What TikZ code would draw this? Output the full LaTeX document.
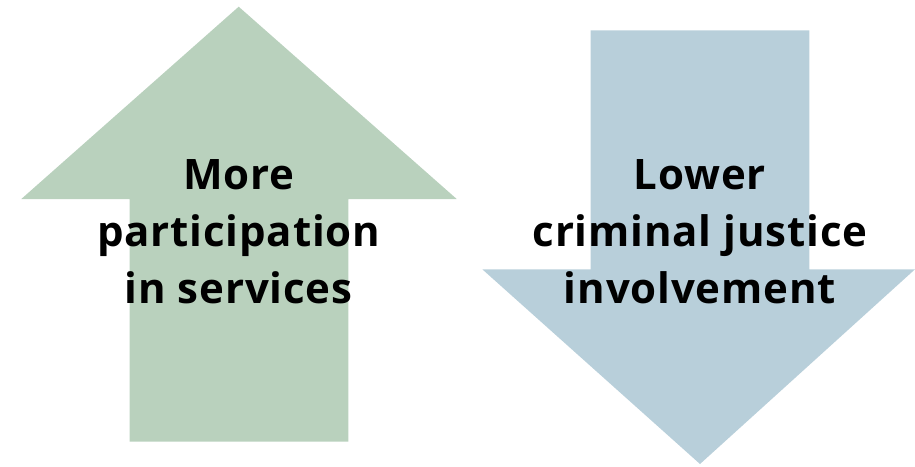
\documentclass[tikz,border=0pt]{standalone}
\usepackage{fontspec}
\setmainfont{Open Sans}[LetterSpace=2]
\definecolor{upgreen}{HTML}{B9D1BD}
\definecolor{downblue}{HTML}{B8CFDA}
\begin{document}
\begin{tikzpicture}[x=1pt,y=-1pt,
  arrowshape/.style={draw=none},
  lbl/.style={anchor=base,inner sep=0pt,font=\fontsize{42}{57}\selectfont\bfseries}]
\useasboundingbox (0,0) rectangle (915,466);
\fill[upgreen] (238.7,6.7) -- (456.7,199) -- (348.3,199) -- (348.3,441.7) -- (129.7,441.7) -- (129.7,199) -- (21.3,199) -- cycle;
\fill[downblue] (590.7,30.3) -- (809.3,30.3) -- (809.3,269.3) -- (915,269.3) -- (700,464) -- (482.3,269.3) -- (590.7,269.3) -- cycle;
\node[lbl] (a1) at (238.7,189) {More};
\node[lbl] (a2) at (238.7,246) {participation};
\node[lbl] (a3) at (238.7,303) {in services};
\node[lbl] (b1) at (700,189) {Lower};
\node[lbl] (b2) at (700,246) {criminal justice};
\node[lbl] (b3) at (700,303) {involvement};
\end{tikzpicture}
\end{document}
